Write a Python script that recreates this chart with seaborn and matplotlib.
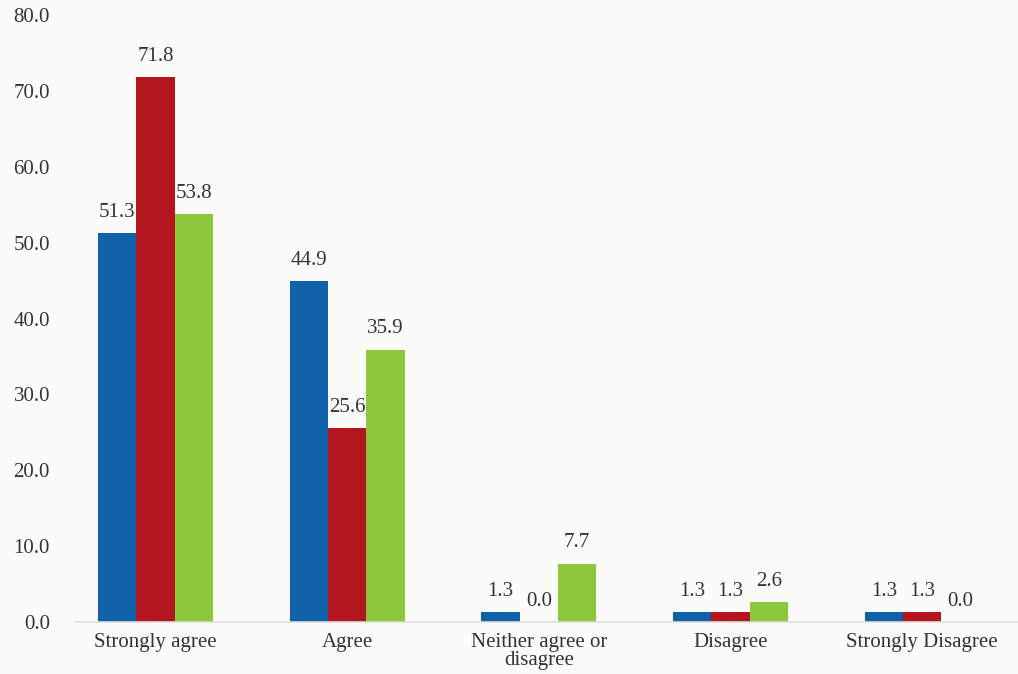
import matplotlib
matplotlib.use("Agg")
import matplotlib.pyplot as plt
import seaborn as sns
import pandas as pd

# Survey responses (%) for three respondent groups
categories = ["Strongly agree", "Agree", "Neither agree or\ndisagree",
              "Disagree", "Strongly Disagree"]
groups = ["Group 1", "Group 2", "Group 3"]
group1 = [51.3, 44.9, 1.3, 1.3, 1.3]
group2 = [71.8, 25.6, 0.0, 1.3, 1.3]
group3 = [53.8, 35.9, 7.7, 2.6, 0.0]
y_ticks = [0, 10, 20, 30, 40, 50, 60, 70, 80]

colors = ["#0f62aa", "#b3161f", "#8dc73c"]

df = pd.DataFrame({
    "category": categories * 3,
    "group": [groups[0]] * 5 + [groups[1]] * 5 + [groups[2]] * 5,
    "value": group1 + group2 + group3,
})

sns.set_theme(style="white")
plt.rcParams["font.family"] = ["Liberation Serif", "DejaVu Serif"]

fig = plt.figure(figsize=(10.18, 6.74), dpi=100, facecolor="#fbfbfa")
ax = fig.add_axes([75 / 1018, 52 / 674, 943 / 1018, 607 / 674])
ax.set_facecolor("#fbfbfa")

sns.barplot(data=df, x="category", y="value", hue="group", order=categories,
            hue_order=groups, palette=colors, width=0.6, saturation=1,
            linewidth=0, legend=False, ax=ax)

for container in ax.containers:
    ax.bar_label(container, fmt="%.1f", padding=8, fontsize=15,
                 color="#333333")

ax.set_ylim(0, 80)
ax.set_xlim(-0.42, 4.5)
ax.set_yticks(y_ticks)
ax.set_yticklabels([f"{t:.1f}" for t in y_ticks])
ax.tick_params(axis="y", length=0, pad=18, labelsize=15, labelcolor="#333333")
ax.tick_params(axis="x", length=0, pad=8, labelsize=15, labelcolor="#333333")
for lbl in ax.get_xticklabels():
    lbl.set_linespacing(0.95)
ax.set_xlabel("")
ax.set_ylabel("")

for side in ["left", "right", "top"]:
    ax.spines[side].set_visible(False)
ax.spines["bottom"].set_color("#dddddd")
ax.spines["bottom"].set_linewidth(1.2)

fig.savefig("out.png", dpi=100, facecolor=fig.get_facecolor())
